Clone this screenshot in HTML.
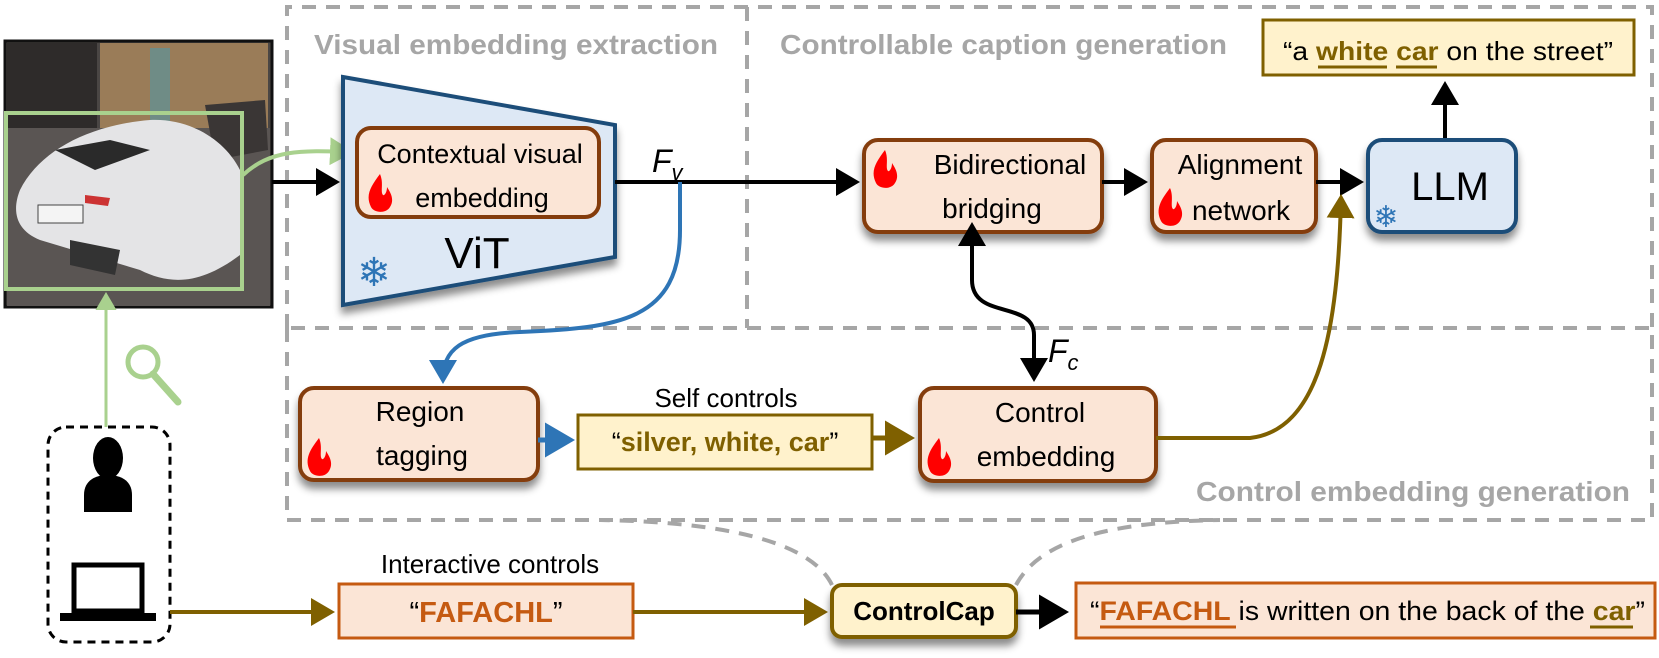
<!DOCTYPE html>
<html><head><meta charset="utf-8"><style>
html,body{margin:0;padding:0;background:#fff;}
svg{display:block;}
text{font-family:"Liberation Sans",sans-serif;}
</style></head><body>
<svg width="1659" height="658" viewBox="0 0 1659 658" xmlns="http://www.w3.org/2000/svg">
<defs>
<filter id="sh" x="-20%" y="-20%" width="140%" height="160%">
<feDropShadow dx="0" dy="7" stdDeviation="4" flood-color="#000" flood-opacity="0.45"/>
</filter>
<marker id="ab" markerWidth="7" markerHeight="7" refX="5" refY="3.5" orient="auto" markerUnits="strokeWidth"><path d="M0,0 L6,3.5 L0,7z" fill="#000"/></marker>
<marker id="abs" markerWidth="7" markerHeight="7" refX="1" refY="3.5" orient="auto-start-reverse" markerUnits="strokeWidth"><path d="M0,0 L6,3.5 L0,7z" fill="#000"/></marker>
<marker id="ablu" markerWidth="7" markerHeight="7" refX="5" refY="3.5" orient="auto" markerUnits="strokeWidth"><path d="M0,0 L6,3.5 L0,7z" fill="#2e75b6"/></marker>
<marker id="abr" markerWidth="7" markerHeight="7" refX="5" refY="3.5" orient="auto" markerUnits="strokeWidth"><path d="M0,0 L6,3.5 L0,7z" fill="#7f6000"/></marker>
<marker id="agr" markerWidth="7" markerHeight="7" refX="5" refY="3.5" orient="auto" markerUnits="strokeWidth"><path d="M0,0 L6,3.5 L0,7z" fill="#a9d18e"/></marker>
<g id="flame"><path d="M12,0 C3,12 -3,21 3,33 C6,39 18,40 22,33 C27,25 22,18 19,13 C19,19 16,22 15,21 C12,18 16,9 12,0z" fill="#ff0000"/></g>
</defs>

<g fill="none" stroke="#a6a6a6" stroke-width="4" stroke-dasharray="14,10">
<path d="M287,328 L287,7 L1652,7 L1652,328"/>
<path d="M747,7 L747,328"/>
<path d="M287,328 L287,520 L1652,520 L1652,328 L287,328"/>
<path d="M832,585 C810,540 720,522 600,520"/>
<path d="M1016,585 C1040,540 1110,522 1220,520"/>
</g>

<text x="314" y="54" font-size="28" font-weight="bold" fill="#a6a6a6" textLength="404" lengthAdjust="spacingAndGlyphs">Visual embedding extraction</text>
<text x="780" y="54" font-size="28" font-weight="bold" fill="#a6a6a6" textLength="447" lengthAdjust="spacingAndGlyphs">Controllable caption generation</text>
<text x="1196" y="501" font-size="28" font-weight="bold" fill="#a6a6a6" textLength="434" lengthAdjust="spacingAndGlyphs">Control embedding generation</text>

<!-- photo -->
<rect x="5" y="41" width="267" height="266" fill="#4a4644" stroke="#111" stroke-width="3"/>
<rect x="100" y="43" width="168" height="85" fill="#9a7c58"/>
<rect x="7" y="43" width="90" height="90" fill="#2e2b2a"/>
<rect x="150" y="48" width="20" height="80" fill="#6f8c86"/>
<rect x="7" y="128" width="263" height="178" fill="#5a5553"/>
<path d="M205,105 L265,100 L268,150 L215,160z" fill="#3a3635"/>
<path d="M20,190 C40,150 90,125 150,120 C190,118 225,140 240,170 L240,255 C200,285 170,285 140,270 L40,240 C15,230 12,210 20,190z" fill="#e4e4e6"/>
<path d="M55,150 L110,140 L150,150 L95,170z" fill="#2a2a2a"/>
<path d="M70,240 L120,250 L115,275 L70,265z" fill="#333"/>
<rect x="38" y="205" width="45" height="18" fill="#f4f4f4" stroke="#444"/>
<path d="M85,195 L110,198 L108,206 L85,203z" fill="#c33"/>
<rect x="6" y="113" width="236" height="176" fill="none" stroke="#a9d18e" stroke-width="4"/>

<path d="M243,175 C270,150 300,150 350,152" fill="none" stroke="#a9d18e" stroke-width="4" marker-end="url(#agr)"/>
<path d="M106,427 L106,295" fill="none" stroke="#a9d18e" stroke-width="3" marker-end="url(#agr)"/>
<circle cx="143" cy="362" r="15" fill="none" stroke="#a9d18e" stroke-width="5"/>
<line x1="153" y1="374" x2="178" y2="402" stroke="#a9d18e" stroke-width="7" stroke-linecap="round"/>

<rect x="48" y="427" width="122" height="215" rx="18" fill="none" stroke="#000" stroke-width="3" stroke-dasharray="8,6"/>
<ellipse cx="108" cy="458" rx="15" ry="21" fill="#000"/>
<path d="M84,512 L84,495 C84,480 96,475 108,475 C120,475 132,480 132,495 L132,512z" fill="#000"/>
<rect x="74" y="565" width="68" height="46" fill="none" stroke="#000" stroke-width="5"/>
<rect x="60" y="613" width="96" height="8" fill="#000"/>

<!-- ViT -->
<path d="M343,77 L615,125 L615,257 L343,305z" fill="#dde8f5" stroke="#1f4e79" stroke-width="4" filter="url(#sh)"/>
<rect x="357" y="128" width="242" height="89" rx="14" fill="#fbe5d6" stroke="#843c0c" stroke-width="4"/>
<text x="480" y="163" font-size="27" text-anchor="middle">Contextual visual</text>
<text x="482" y="207" font-size="27" text-anchor="middle">embedding</text>
<use href="#flame" x="368" y="174"/>
<text x="477" y="268" font-size="44" text-anchor="middle">ViT</text>
<text x="374" y="286" font-size="40" fill="#2e75b6" text-anchor="middle" font-family="DejaVu Sans">❄</text>

<line x1="272" y1="182" x2="336" y2="182" stroke="#000" stroke-width="4" marker-end="url(#ab)"/>
<line x1="615" y1="182" x2="856" y2="182" stroke="#000" stroke-width="4" marker-end="url(#ab)"/>
<text x="652" y="172" font-size="32" font-style="italic" font-family="Liberation Serif, serif">F<tspan font-size="22" dy="8">v</tspan></text>

<rect x="864" y="140" width="238" height="92" rx="14" fill="#fbe5d6" stroke="#843c0c" stroke-width="4" filter="url(#sh)"/>
<use href="#flame" x="873" y="150"/>
<text x="1010" y="174" font-size="28" text-anchor="middle">Bidirectional</text>
<text x="992" y="218" font-size="28" text-anchor="middle">bridging</text>

<line x1="1102" y1="182" x2="1144" y2="182" stroke="#000" stroke-width="4" marker-end="url(#ab)"/>
<rect x="1152" y="140" width="164" height="92" rx="14" fill="#fbe5d6" stroke="#843c0c" stroke-width="4" filter="url(#sh)"/>
<text x="1240" y="174" font-size="28" text-anchor="middle">Alignment</text>
<use href="#flame" x="1158" y="188"/>
<text x="1241" y="220" font-size="28" text-anchor="middle">network</text>

<line x1="1316" y1="182" x2="1360" y2="182" stroke="#000" stroke-width="4" marker-end="url(#ab)"/>
<rect x="1368" y="140" width="148" height="92" rx="14" fill="#dde8f5" stroke="#1f4e79" stroke-width="4" filter="url(#sh)"/>
<text x="1450" y="200" font-size="40" text-anchor="middle">LLM</text>
<text x="1386" y="227" font-size="30" fill="#2e75b6" text-anchor="middle" font-family="DejaVu Sans">❄</text>

<line x1="1445" y1="138" x2="1445" y2="85" stroke="#000" stroke-width="4" marker-end="url(#ab)"/>
<rect x="1263" y="20" width="371" height="55" fill="#fff2cc" stroke="#7f6000" stroke-width="3"/>
<text x="1283" y="60" font-size="26" textLength="330" lengthAdjust="spacingAndGlyphs">“a <tspan fill="#7f6000" font-weight="bold">white</tspan> <tspan fill="#7f6000" font-weight="bold">car</tspan> on the street”</text>
<line x1="1318" y1="67" x2="1387" y2="67" stroke="#7f6000" stroke-width="3"/>
<line x1="1396" y1="67" x2="1437" y2="67" stroke="#7f6000" stroke-width="3"/>

<path d="M972,242 L972,280 C972,320 1034,300 1034,335 L1034,378" fill="none" stroke="#000" stroke-width="4" marker-start="url(#abs)" marker-end="url(#ab)"/>
<text x="1048" y="362" font-size="32" font-style="italic" font-family="Liberation Serif, serif">F<tspan font-size="22" dy="8">c</tspan></text>

<path d="M680,182 L680,230 C680,320 620,328 520,332 C460,334 443,350 443,380" fill="none" stroke="#2e75b6" stroke-width="4" marker-end="url(#ablu)"/>

<rect x="300" y="388" width="238" height="92" rx="14" fill="#fbe5d6" stroke="#843c0c" stroke-width="4" filter="url(#sh)"/>
<text x="420" y="421" font-size="28" text-anchor="middle">Region</text>
<text x="422" y="465" font-size="28" text-anchor="middle">tagging</text>
<use href="#flame" x="307" y="438"/>

<line x1="538" y1="440" x2="570" y2="440" stroke="#2e75b6" stroke-width="5" marker-end="url(#ablu)"/>
<text x="726" y="407" font-size="26" text-anchor="middle">Self controls</text>
<rect x="578" y="415" width="294" height="54" fill="#fff2cc" stroke="#7f6000" stroke-width="3"/>
<text x="725" y="451" font-size="27" text-anchor="middle"><tspan>“</tspan><tspan fill="#7f6000" font-weight="bold">silver, white, car</tspan><tspan>”</tspan></text>

<line x1="872" y1="438" x2="910" y2="438" stroke="#7f6000" stroke-width="5" marker-end="url(#abr)"/>
<rect x="920" y="388" width="236" height="93" rx="14" fill="#fbe5d6" stroke="#843c0c" stroke-width="4" filter="url(#sh)"/>
<text x="1040" y="422" font-size="28" text-anchor="middle">Control</text>
<use href="#flame" x="927" y="438"/>
<text x="1046" y="466" font-size="28" text-anchor="middle">embedding</text>

<path d="M1156,438 L1250,438 C1320,430 1338,330 1341,198" fill="none" stroke="#7f6000" stroke-width="4" marker-end="url(#abr)"/>

<line x1="170" y1="612" x2="331" y2="612" stroke="#7f6000" stroke-width="4" marker-end="url(#abr)"/>
<text x="490" y="573" font-size="26" text-anchor="middle">Interactive controls</text>
<rect x="339" y="584" width="294" height="54" fill="#fbe5d6" stroke="#c55a11" stroke-width="3"/>
<text x="486" y="622" font-size="29" text-anchor="middle"><tspan>“</tspan><tspan fill="#c55a11" font-weight="bold">FAFACHL</tspan><tspan>”</tspan></text>
<line x1="633" y1="612" x2="824" y2="612" stroke="#7f6000" stroke-width="4" marker-end="url(#abr)"/>

<rect x="832" y="585" width="184" height="52" rx="10" fill="#fff2cc" stroke="#7f6000" stroke-width="4" filter="url(#sh)"/>
<text x="924" y="620" font-size="26" font-weight="bold" text-anchor="middle">ControlCap</text>
<line x1="1016" y1="612" x2="1064" y2="612" stroke="#000" stroke-width="5" marker-end="url(#ab)"/>

<rect x="1076" y="583" width="579" height="55" fill="#fbe5d6" stroke="#c55a11" stroke-width="3"/>
<text x="1090" y="620" font-size="27" textLength="555" lengthAdjust="spacingAndGlyphs">“<tspan fill="#c55a11" font-weight="bold">FAFACHL</tspan> is written on the back of the <tspan fill="#7f6000" font-weight="bold">car</tspan>”</text>
<line x1="1100" y1="627" x2="1236" y2="627" stroke="#c55a11" stroke-width="3"/>
<line x1="1590" y1="627" x2="1633" y2="627" stroke="#7f6000" stroke-width="3"/>
</svg>
</body></html>
